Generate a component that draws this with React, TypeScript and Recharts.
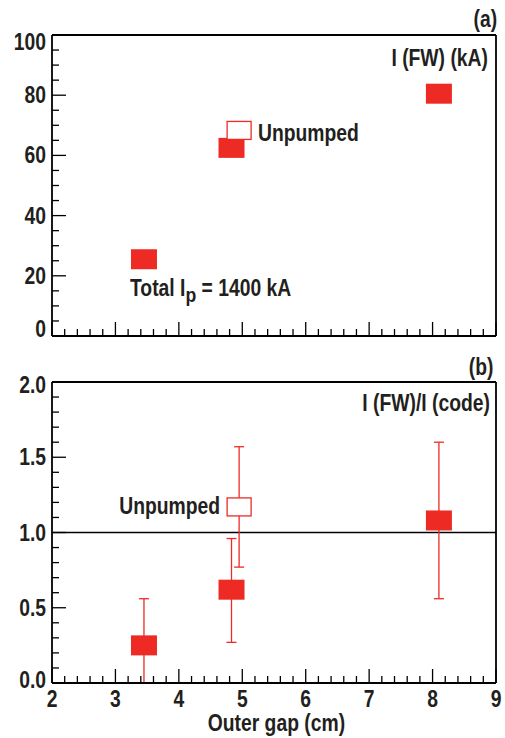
import React from "react";
import {
  ScatterChart,
  Scatter,
  XAxis,
  YAxis,
  ErrorBar,
  ReferenceLine,
} from "recharts";

// outer gap (cm)
const gapPumped = [3.45, 4.83, 8.1];
const gapUnpumped = [4.95];

// (a) I(FW) in kA
const fwPumped = [25.5, 62.5, 80.5];
const fwUnpumped = [68.3];

// (b) I(FW)/I(code) with error bar ends
const ratioPumped = [0.25, 0.62, 1.08];
const ratioPumpedLow = [0, 0.27, 0.56];
const ratioPumpedHigh = [0.56, 0.96, 1.6];
const ratioUnpumped = [1.17];
const ratioUnpumpedLow = [0.77];
const ratioUnpumpedHigh = [1.57];

const xMajor = [2, 3, 4, 5, 6, 7, 8, 9];
const xTicks = Array.from({ length: 36 }, (_, i) => +(2 + i * 0.2).toFixed(1));
const yTicksA = Array.from({ length: 21 }, (_, i) => i * 5);
const yMajorA = [0, 20, 40, 60, 80, 100];
const yTicksB = Array.from({ length: 21 }, (_, i) => +(i * 0.1).toFixed(1));
const yMajorB = [0, 0.5, 1, 1.5, 2];

const RED = "#ee2a24";
const INK = "#231f20";
const FONT = "'Liberation Sans', Arial, sans-serif";
const SQ = 0.84; // condensed look

const dataA = gapPumped.map((x, i) => ({ x, y: fwPumped[i] }));
const dataAUn = gapUnpumped.map((x, i) => ({ x, y: fwUnpumped[i] }));
const dataB = gapPumped.map((x, i) => ({
  x,
  y: ratioPumped[i],
  err: [ratioPumped[i] - ratioPumpedLow[i], ratioPumpedHigh[i] - ratioPumped[i]],
}));
const dataBUn = gapUnpumped.map((x, i) => ({
  x,
  y: ratioUnpumped[i],
  err: [ratioUnpumped[i] - ratioUnpumpedLow[i], ratioUnpumpedHigh[i] - ratioUnpumped[i]],
}));

const FilledBox = (p: any) => (
  <rect x={p.cx - 13} y={p.cy - 10} width={26} height={20} fill={RED} />
);
const OpenBox = (p: any) => (
  <rect
    x={p.cx - 12}
    y={p.cy - 9}
    width={24}
    height={18}
    fill="#fff"
    stroke={RED}
    strokeWidth={1.3}
  />
);

const SvgLabel = ({ x, y, anchor, children }: any) => (
  <text
    transform={`translate(${x},${y}) scale(${SQ},1)`}
    textAnchor={anchor}
    fill={INK}
    fontSize={23}
    fontWeight="bold"
    fontFamily={FONT}
  >
    {children}
  </text>
);

const YTick = (props: any) => {
  const { x, y, payload, majors, fmt, edge } = props;
  const v = payload.value;
  const major = majors.includes(v);
  let dy = 0;
  if (v === majors[0]) dy = -edge;
  if (v === majors[majors.length - 1]) dy = edge;
  return (
    <g>
      <line x1={x} y1={y} x2={x + (major ? 14 : 7)} y2={y} stroke="#000" strokeWidth={1.3} />
      {major && (
        <SvgLabel x={x - 6} y={y + dy + 8} anchor="end">
          {fmt(v)}
        </SvgLabel>
      )}
    </g>
  );
};

const XTick = (props: any) => {
  const { x, y, payload, showLabels } = props;
  const v = payload.value;
  const major = xMajor.includes(v);
  return (
    <g>
      <line x1={x} y1={y} x2={x} y2={y - (major ? 14 : 7)} stroke="#000" strokeWidth={1.3} />
      {major && showLabels && (
        <SvgLabel x={x} y={y + 24} anchor="middle">
          {v}
        </SvgLabel>
      )}
    </g>
  );
};

const txt: React.CSSProperties = {
  position: "absolute",
  fontFamily: FONT,
  fontWeight: "bold",
  fontSize: 23,
  color: INK,
  whiteSpace: "nowrap",
  lineHeight: "22px",
};
const leftT: React.CSSProperties = { ...txt, transform: `scaleX(${SQ})`, transformOrigin: "left center" };
const rightT: React.CSSProperties = { ...txt, transform: `scaleX(${SQ})`, transformOrigin: "right center" };

const frameAxes = (labels: boolean, top: [number, number]) => [
  <XAxis
    key="xb"
    dataKey="x"
    type="number"
    domain={[2, 9]}
    ticks={xTicks}
    interval={0}
    height={1}
    tickSize={0}
    tickMargin={0}
    axisLine={{ stroke: "#000", strokeWidth: 1.8 }}
    tickLine={false}
    tick={<XTick showLabels={labels} />}
  />,
  <XAxis
    key="xt"
    xAxisId="top"
    orientation="top"
    type="number"
    domain={[2, 9]}
    height={1}
    tick={false}
    tickLine={false}
    axisLine={{ stroke: "#000", strokeWidth: 1.8 }}
  />,
  <YAxis
    key="yr"
    yAxisId="r"
    orientation="right"
    type="number"
    domain={top}
    width={1}
    tick={false}
    tickLine={false}
    axisLine={{ stroke: "#000", strokeWidth: 1.8 }}
  />,
];

export default function App() {
  return (
    <div style={{ position: "absolute", left: 0, top: 0, width: 505, height: 738, background: "#fff" }}>
      <div style={{ position: "absolute", left: 0, top: 0 }}>
        <ScatterChart width={505} height={370} margin={{ top: 34, right: 8, bottom: 33, left: 0 }}>
          <YAxis
            dataKey="y"
            type="number"
            domain={[0, 100]}
            ticks={yTicksA}
            interval={0}
            width={52}
            tickSize={0}
            tickMargin={0}
            axisLine={{ stroke: "#000", strokeWidth: 1.8 }}
            tickLine={false}
            tick={<YTick majors={yMajorA} fmt={(v: number) => String(v)} edge={7} />}
          />
          <Scatter data={dataA} shape={<FilledBox />} isAnimationActive={false} />
          <Scatter data={dataAUn} shape={<OpenBox />} isAnimationActive={false} />
          {frameAxes(false, [0, 100])}
        </ScatterChart>
      </div>
      <div style={{ position: "absolute", left: 0, top: 370 }}>
        <ScatterChart width={505} height={368} margin={{ top: 11, right: 8, bottom: 54, left: 0 }}>
          <YAxis
            dataKey="y"
            type="number"
            domain={[0, 2]}
            ticks={yTicksB}
            interval={0}
            width={52}
            tickSize={0}
            tickMargin={0}
            axisLine={{ stroke: "#000", strokeWidth: 1.8 }}
            tickLine={false}
            tick={<YTick majors={yMajorB} fmt={(v: number) => v.toFixed(1)} edge={3} />}
          />
          <ReferenceLine y={1} stroke="#000" strokeWidth={1.6} />
          <Scatter data={dataB} shape={<FilledBox />} isAnimationActive={false}>
            <ErrorBar dataKey="err" direction="y" width={5} stroke={RED} strokeWidth={1.3} />
          </Scatter>
          <Scatter data={dataBUn} shape={<OpenBox />} isAnimationActive={false}>
            <ErrorBar dataKey="err" direction="y" width={5} stroke={RED} strokeWidth={1.3} />
          </Scatter>
          {frameAxes(true, [0, 2])}
        </ScatterChart>
      </div>

      <div style={{ ...rightT, right: 8, top: 8 }}>(a)</div>
      <div style={{ ...rightT, right: 17, top: 47 }}>I (FW) (kA)</div>
      <div style={{ ...leftT, left: 258, top: 122 }}>Unpumped</div>
      <div style={{ ...leftT, left: 130, top: 277 }}>
        Total I<sub style={{ fontSize: 21, verticalAlign: "-6px", lineHeight: 0 }}>p</sub> = 1400 kA
      </div>

      <div style={{ ...rightT, right: 12, top: 356 }}>(b)</div>
      <div style={{ ...rightT, right: 15, top: 392 }}>I (FW)/I (code)</div>
      <div style={{ ...rightT, right: 285, top: 495 }}>Unpumped</div>
      <div
        style={{
          ...txt,
          left: 0,
          width: 505,
          textAlign: "center",
          paddingLeft: 48,
          boxSizing: "border-box",
          top: 712,
          transform: `scaleX(${SQ})`,
          transformOrigin: "276px center",
        }}
      >
        Outer gap (cm)
      </div>
    </div>
  );
}
